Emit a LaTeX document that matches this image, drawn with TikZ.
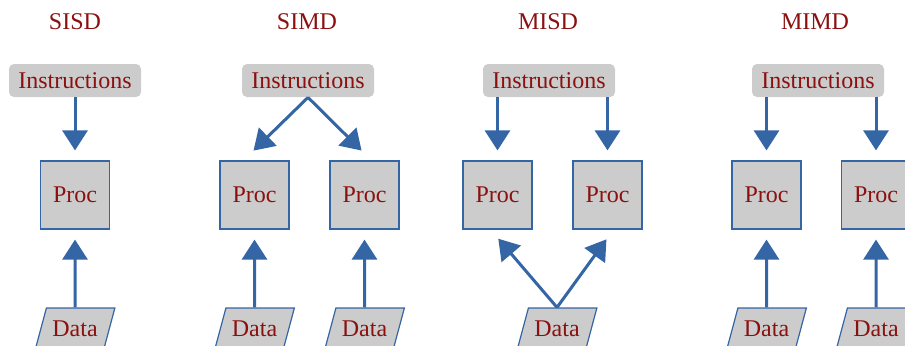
\documentclass[tikz,border=0pt]{standalone}
\usepackage{fontspec}
\setmainfont{Liberation Serif}
\usetikzlibrary{positioning,arrows.meta,shapes.geometric}
\definecolor{flynnred}{HTML}{8B1111}
\definecolor{flynnblue}{HTML}{3465A4}
\definecolor{flynngray}{HTML}{CCCCCC}

\begin{document}
\begin{tikzpicture}[
        x=0.5pt, y=-0.5pt,
        every node/.style={text=flynnred, font=\fontsize{12}{14}\selectfont},
        title/.style={inner sep=0pt},
        instr/.style={rectangle, fill=flynngray, rounded corners=2.5pt, minimum width=66pt, minimum height=16.5pt, inner sep=1pt},
        proc/.style={rectangle, draw=flynnblue, fill=flynngray, line width=0.6pt, minimum width=34.5pt, minimum height=34pt},
        datum/.style={trapezium, trapezium left angle=64, trapezium right angle=116, trapezium stretches=true, draw=flynnblue, fill=flynngray, line width=0.6pt, minimum width=40pt, minimum height=21pt, inner sep=1pt},
        flow/.style={draw=flynnblue, line width=1.5pt, -{Triangle[width=12.5pt,length=10pt]}, shorten >=5pt}
    ]
        \clip (0,0) rectangle (905,345);

        % SISD
        \node[title] (sisdT) at (75,22) {SISD};
        \node[instr] (sisdI) at (75,80.5) {Instructions};
        \node[proc] (sisdP) at (75,195) {Proc};
        \node[datum] (sisdD) at (75,329) {Data};

        % SIMD
        \node[title] (simdT) at (307,22) {SIMD};
        \node[instr] (simdI) at (308,80.5) {Instructions};
        \node[proc] (simdP1) at (254.5,195) {Proc};
        \node[proc] (simdP2) at (364.5,195) {Proc};
        \node[datum] (simdD1) at (254.5,329) {Data};
        \node[datum] (simdD2) at (364.5,329) {Data};

        % MISD
        \node[title] (misdT) at (548,22) {MISD};
        \node[instr] (misdI) at (549,80.5) {Instructions};
        \node[proc] (misdP1) at (497.5,195) {Proc};
        \node[proc] (misdP2) at (607.5,195) {Proc};
        \node[datum] (misdD) at (557,329) {Data};

        % MIMD
        \node[title] (mimdT) at (815,22) {MIMD};
        \node[instr] (mimdI) at (818,80.5) {Instructions};
        \node[proc] (mimdP1) at (766.5,195) {Proc};
        \node[proc] (mimdP2) at (876,195) {Proc};
        \node[datum] (mimdD1) at (766.5,329) {Data};
        \node[datum] (mimdD2) at (876,329) {Data};

        % Arrows
        \draw[flow] (sisdI) -- (sisdP);
        \draw[flow] (sisdD.north) -- (sisdP);

        \draw[flow, shorten >=7pt] (simdI.south) -- ([xshift=-5.5pt]simdP1.north);
        \draw[flow, shorten >=7pt] (simdI.south) -- ([xshift=3.5pt]simdP2.north);
        \draw[flow] (simdD1.north) -- (simdP1);
        \draw[flow] (simdD2.north) -- (simdP2);

        \draw[flow] (misdI.south -| misdP1) -- (misdP1);
        \draw[flow] (misdI.south -| misdP2) -- (misdP2);
        \draw[flow, shorten >=6pt] (misdD.north) -- ([xshift=-3.5pt]misdP1.south);
        \draw[flow, shorten >=6pt] (misdD.north) -- ([xshift=3pt]misdP2.south);

        \draw[flow] (mimdI.south -| mimdP1) -- (mimdP1);
        \draw[flow] (mimdI.south -| mimdP2) -- (mimdP2);
        \draw[flow] (mimdD1.north) -- (mimdP1);
        \draw[flow] (mimdD2.north) -- (mimdP2);
    \end{tikzpicture}
\end{document}
